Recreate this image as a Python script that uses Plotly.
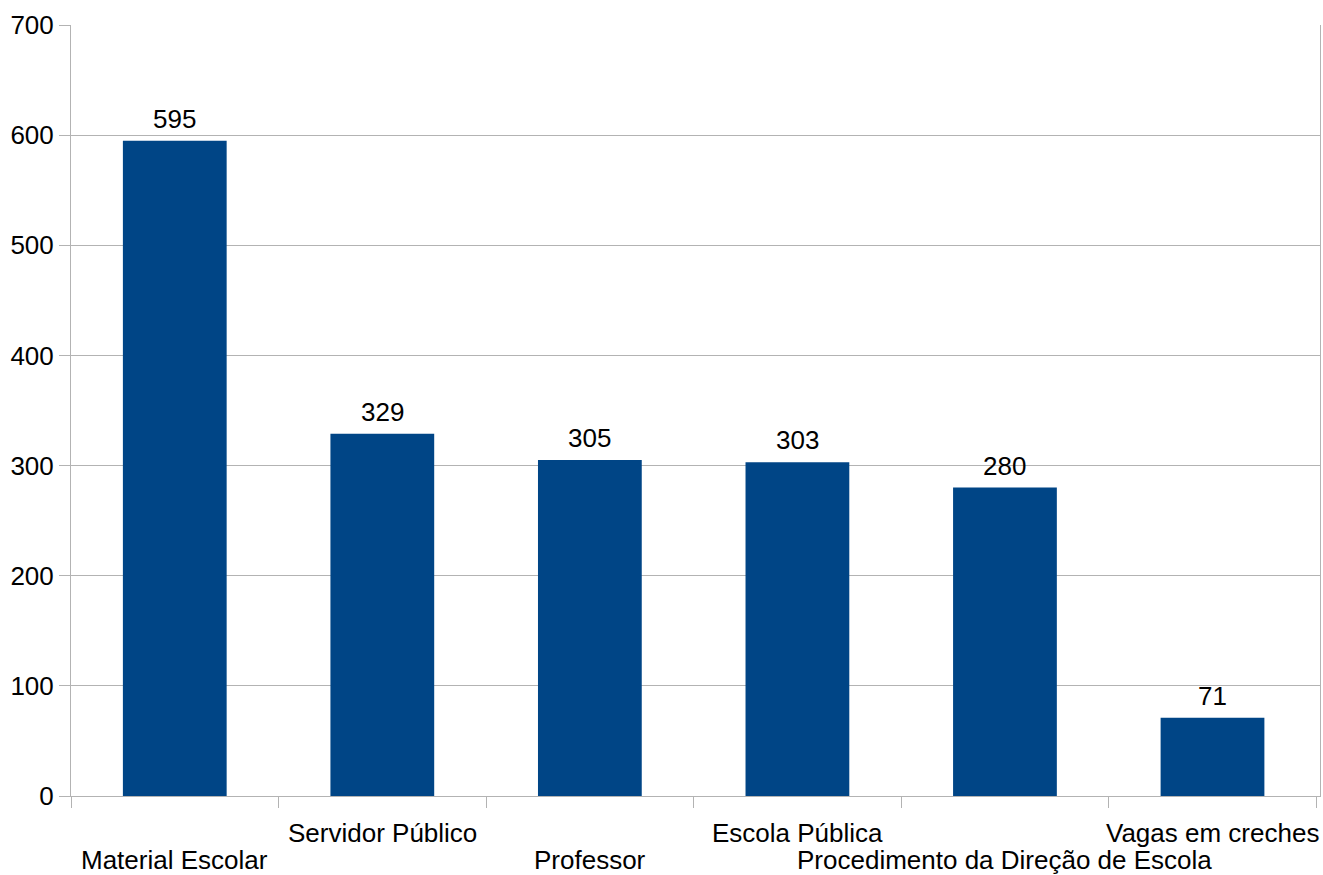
import plotly.graph_objects as go

# Categories and counts
categories = [
    "Material Escolar",
    "Servidor Público",
    "Professor",
    "Escola Pública",
    "Procedimento da Direção de Escola",
    "Vagas em creches",
]
counts = [595, 329, 305, 303, 280, 71]
y_ticks = [0, 100, 200, 300, 400, 500, 600, 700]

FONT = "Liberation Sans, Arial, sans-serif"
GRID = "#b3b3b3"
BAR = "#004586"
SIZE = 26

fig = go.Figure(
    go.Bar(
        x=categories,
        y=counts,
        marker=dict(color=BAR, line=dict(width=0)),
        hoverinfo="skip",
    )
)

# Value labels sit a little above each bar
for name, v in zip(categories, counts):
    fig.add_annotation(
        x=name,
        y=v,
        xref="x",
        yref="y",
        text=str(v),
        showarrow=False,
        yanchor="bottom",
        yshift=6,
        borderpad=0,
        font=dict(family=FONT, size=SIZE, color="#000000"),
    )

# Category labels alternate between two rows so the long names don't collide
for i, name in enumerate(categories):
    fig.add_annotation(
        x=name,
        y=0,
        xref="x",
        yref="paper",
        text=name,
        showarrow=False,
        yanchor="middle",
        borderpad=0,
        yshift=-37 if i % 2 == 1 else -64,
        font=dict(family=FONT, size=SIZE, color="#000000"),
    )

fig.update_layout(
    width=1323,
    height=875,
    autosize=False,
    margin=dict(l=71, r=3, t=25, b=79, pad=0),
    paper_bgcolor="white",
    plot_bgcolor="white",
    bargap=0.5,
    showlegend=False,
    font=dict(family=FONT, size=SIZE, color="#000000"),
)

fig.update_xaxes(
    type="category",
    tickson="boundaries",
    ticks="outside",
    ticklen=11,
    tickcolor=GRID,
    tickwidth=1,
    showticklabels=False,
    showgrid=False,
    showline=True,
    linecolor=GRID,
    linewidth=1,
    zeroline=False,
    automargin=False,
)

fig.update_yaxes(
    range=[0, 700],
    tickvals=y_ticks,
    ticktext=[str(v) for v in y_ticks],
    ticks="outside",
    ticklen=11,
    tickcolor=GRID,
    tickwidth=1,
    showgrid=True,
    gridcolor=GRID,
    gridwidth=1,
    showline=True,
    mirror=True,
    linecolor=GRID,
    linewidth=1,
    zeroline=False,
    automargin=False,
    tickfont=dict(family=FONT, size=SIZE, color="#000000"),
)

fig.write_html("out.html")
